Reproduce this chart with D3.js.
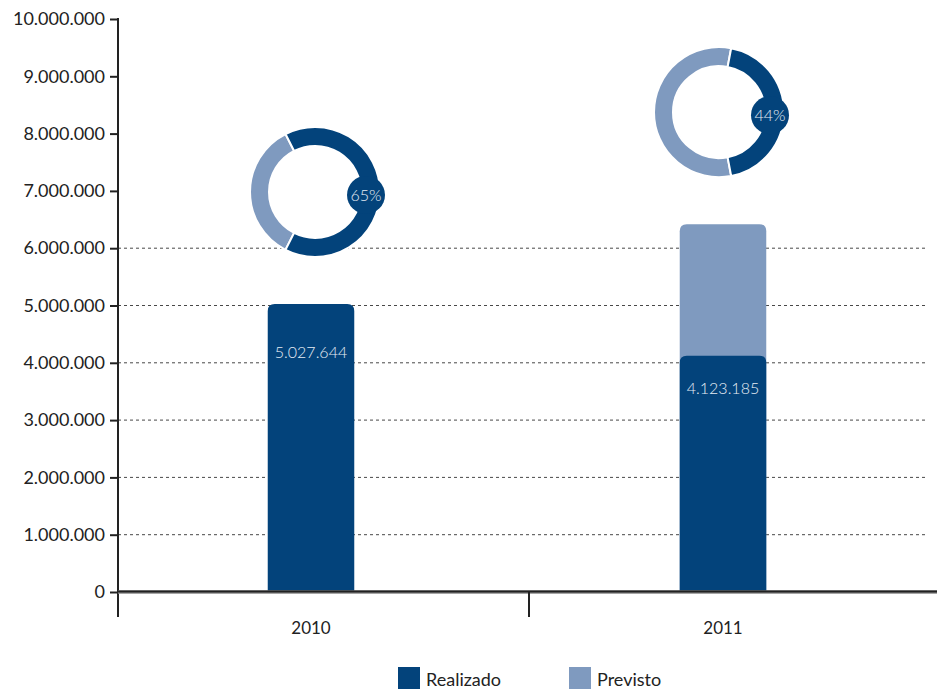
<!DOCTYPE html>
<html><head><meta charset="utf-8">
<script src="https://cdn.jsdelivr.net/npm/d3@7"></script>
<style>
html,body{margin:0;padding:0;background:#fff;}
svg{display:block;font-family:Lato,"Open Sans",sans-serif;}
</style></head>
<body><svg id="c" width="937" height="690"></svg>
<script>
const categories = ["2010", "2011"];
const realizado = [5027644, 4123185];
const previsto = [null, 6420000];
const realizadoLabels = ["5.027.644", "4.123.185"];
const percents = [65, 44];
const yTicks = [0,1000000,2000000,3000000,4000000,5000000,6000000,7000000,8000000,9000000,10000000];
const gridTicks = [1000000,2000000,3000000,4000000,5000000,6000000];
const legendItems = ["Realizado", "Previsto"];

const DARK = "#03437b", LIGHT = "#7f9abf";
const LABEL_OFFSET = [54, 38];
const svg = d3.select("#c");
const y = d3.scaleLinear().domain([0, 10000000]).range([592, 19]);
const x = d3.scaleBand().domain(categories).range([105, 929]).paddingInner(0.79).paddingOuter(0.395);
const fmt = v => d3.format(",")(v).replace(/,/g, ".");

// gridlines
svg.append("g").selectAll("line").data(gridTicks).join("line")
  .attr("x1", 118).attr("x2", 925).attr("y1", d => y(d)).attr("y2", d => y(d))
  .attr("stroke", "#333").attr("stroke-width", 0.9).attr("stroke-dasharray", "3,3");

// y axis
const ya = d3.axisLeft(y).tickValues(yTicks).tickFormat(fmt).tickSize(8).tickPadding(5);
const yg = svg.append("g").attr("transform", "translate(118,0)").call(ya);
yg.select(".domain").remove();
yg.selectAll(".tick line").attr("stroke", "#222").attr("stroke-width", 2);
yg.selectAll(".tick text").attr("font-size", 18).attr("fill", "#222").attr("font-family", "Lato,sans-serif");
svg.append("line").attr("x1",118).attr("x2",118).attr("y1",18).attr("y2",617).attr("stroke","#222").attr("stroke-width",2);

// bars with rounded tops
function topRounded(x0, w, yTop, yBot, r) {
  return `M${x0},${yBot}V${yTop+r}Q${x0},${yTop} ${x0+r},${yTop}H${x0+w-r}Q${x0+w},${yTop} ${x0+w},${yTop+r}V${yBot}Z`;
}
const bw = x.bandwidth();
categories.forEach((c, i) => {
  if (previsto[i] != null) {
    svg.append("path").attr("d", topRounded(x(c), bw, y(previsto[i]), y(0), 7)).attr("fill", LIGHT);
  }
  svg.append("path").attr("d", topRounded(x(c), bw, y(realizado[i]), y(0), 7)).attr("fill", DARK);
  svg.append("text").attr("x", x(c) + bw/2).attr("y", y(realizado[i]) + LABEL_OFFSET[i])
    .attr("text-anchor", "middle").attr("font-size", 16).attr("font-weight", 300)
    .attr("fill", "#e6ecf4").text(realizadoLabels[i]);
});

// x axis
svg.append("line").attr("x1",118).attr("x2",937).attr("y1",y(0)).attr("y2",y(0)).attr("stroke","#888").attr("stroke-width",3.5);
svg.append("line").attr("x1",118).attr("x2",937).attr("y1",y(0)-0.5).attr("y2",y(0)-0.5).attr("stroke","#222").attr("stroke-width",2);
svg.append("line").attr("x1",529).attr("x2",529).attr("y1",y(0)).attr("y2",617).attr("stroke","#222").attr("stroke-width",2);
svg.selectAll(".xl").data(categories).join("text")
  .attr("x", d => x(d) + bw/2).attr("y", 634).attr("text-anchor","middle")
  .attr("font-size", 17).attr("fill","#222").text(d => d);

// donuts
const R = 65, r = 46;
categories.forEach((c, i) => {
  const top = previsto[i] != null ? previsto[i] : realizado[i];
  const cx = x(c) + bw/2 + (i === 0 ? 4 : -4), cy = y(top) - 112;
  const p = percents[i] / 100;
  const a0 = Math.PI/2 - p*Math.PI, a1 = Math.PI/2 + p*Math.PI;
  const arc = d3.arc().innerRadius(r).outerRadius(R);
  const g = svg.append("g").attr("transform", `translate(${cx},${cy})`);
  g.append("path").attr("d", arc({startAngle: a1, endAngle: a0 + 2*Math.PI})).attr("fill", LIGHT)
    .attr("stroke", "#fff").attr("stroke-width", 2);
  g.append("path").attr("d", arc({startAngle: a0, endAngle: a1})).attr("fill", DARK)
    .attr("stroke", "#fff").attr("stroke-width", 2);
  g.append("circle").attr("cx", 51).attr("cy", 3).attr("r", 19).attr("fill", DARK);
  g.append("text").attr("x", 51).attr("y", 9).attr("text-anchor","middle")
    .attr("font-size", 16).attr("font-weight", 300).attr("fill", "#e6ecf4").text(percents[i] + "%");
});

// legend
const lg = svg.append("g");
legendItems.forEach((t, i) => {
  const lx = 398 + i * 171;
  lg.append("rect").attr("x", lx).attr("y", 667).attr("width", 22).attr("height", 22).attr("fill", i === 0 ? DARK : LIGHT);
  lg.append("text").attr("x", lx + 28).attr("y", 686).attr("font-size", 18).attr("fill", "#222").text(t);
});
</script></body></html>
